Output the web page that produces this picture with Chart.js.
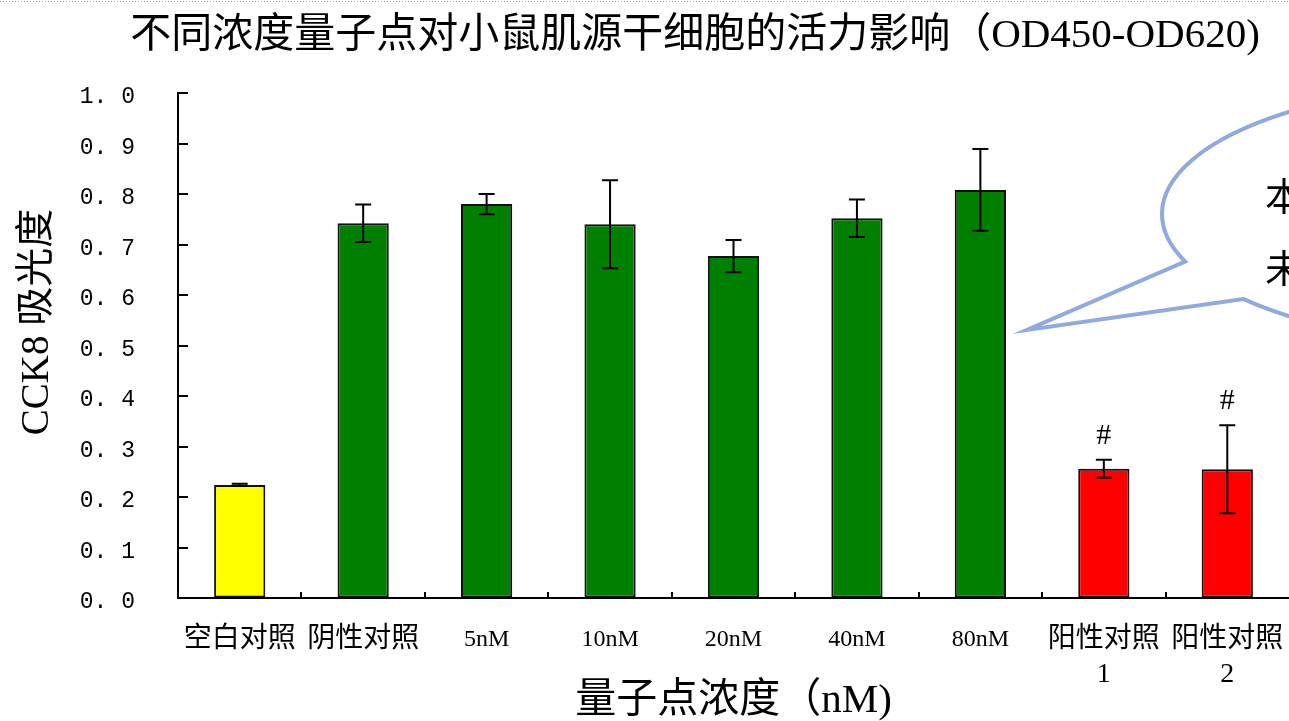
<!DOCTYPE html>
<html>
<head>
<meta charset="utf-8">
<script src="https://cdn.jsdelivr.net/npm/chart.js@4.4.1/dist/chart.umd.min.js"></script>
<style>
  html, body { margin: 0; padding: 0; background: #fff; }
  canvas { display: block; }
</style>
</head>
<body>
<canvas id="c" width="1289" height="721"></canvas>
<script>
// ---- data ----
const chartTitle = '不同浓度量子点对小鼠肌源干细胞的活力影响（OD450-OD620)';
const yAxisTitle = 'CCK8 吸光度';
const xAxisTitle = '量子点浓度（nM)';
const categories = ['空白对照', '阴性对照', '5nM', '10nM', '20nM', '40nM', '80nM', ['阳性对照', '1'], ['阳性对照', '2']];
const values = [0.224, 0.742, 0.780, 0.740, 0.677, 0.752, 0.808, 0.256, 0.255];
const errors = [0.002, 0.037, 0.020, 0.087, 0.032, 0.037, 0.081, 0.018, 0.087];
const markers = ['', '', '', '', '', '', '', '#', '#'];
const barColors = ['#FFFF00', '#008000', '#008000', '#008000', '#008000', '#008000', '#008000', '#FF0000', '#FF0000'];
const calloutLines = ['本', '未'];

const FONT_MIX = "'Liberation Serif', 'Noto Sans CJK SC', serif";
const FONT_CJK = "'Noto Sans CJK SC', sans-serif";

const overlay = {
  id: 'overlay',
  afterDatasetsDraw(chart) {
    const ctx = chart.ctx;
    const x = chart.scales.x, y = chart.scales.y;
    ctx.save();
    // error bars
    ctx.strokeStyle = '#000';
    ctx.lineWidth = 2;
    values.forEach((v, i) => {
      const cx = x.getPixelForValue(i);
      const top = y.getPixelForValue(v + errors[i]);
      const bot = y.getPixelForValue(v - errors[i]);
      const cap = 8;
      ctx.beginPath();
      ctx.moveTo(cx, top); ctx.lineTo(cx, bot);
      ctx.moveTo(cx - cap, top); ctx.lineTo(cx + cap, top);
      ctx.moveTo(cx - cap, bot); ctx.lineTo(cx + cap, bot);
      ctx.stroke();
      if (markers[i]) {
        ctx.fillStyle = '#000';
        ctx.font = "30px " + FONT_MIX;
        ctx.textAlign = 'center';
        ctx.textBaseline = 'middle';
        ctx.fillText(markers[i], cx, top - 24);
      }
    });
    // inner tick marks
    ctx.lineWidth = 2;
    y.ticks.forEach(t => {
      if (t.value === 0) return;
      const py = Math.round(y.getPixelForValue(t.value));
      ctx.beginPath();
      ctx.moveTo(x.left, py); ctx.lineTo(x.left + 10, py);
      ctx.stroke();
    });
    for (let i = 0; i < categories.length - 1; i++) {
      const px = Math.round((x.getPixelForValue(i) + x.getPixelForValue(i + 1)) / 2);
      ctx.beginPath();
      ctx.moveTo(px, y.bottom); ctx.lineTo(px, y.bottom - 6);
      ctx.stroke();
    }
    ctx.restore();
  },
  afterDraw(chart) {
    const ctx = chart.ctx;
    ctx.save();
    // dotted line at top edge
    ctx.strokeStyle = '#8EAADF';
    ctx.lineWidth = 1;
    ctx.setLineDash([1, 2]);
    ctx.beginPath();
    ctx.moveTo(0, 1.5); ctx.lineTo(chart.width, 1.5);
    ctx.stroke();
    ctx.setLineDash([]);
    // chart title
    ctx.fillStyle = '#000';
    ctx.font = "41px " + FONT_MIX;
    ctx.textAlign = 'center';
    ctx.textBaseline = 'middle';
    ctx.fillText(chartTitle, 695, 36);
    // y axis title
    ctx.save();
    ctx.translate(38, 322);
    ctx.rotate(-Math.PI / 2);
    ctx.font = "39px " + FONT_MIX;
    ctx.fillText(yAxisTitle, 0, 0);
    ctx.restore();
    // callout bubble
    const cx = 1496, cy = 214, rx = 334, ry = 130;
    const a1 = Math.atan2((262 - cy) / ry, (1182 - cx) / rx);
    const a2 = Math.atan2((300 - cy) / ry, (1240 - cx) / rx);
    ctx.beginPath();
    ctx.ellipse(cx, cy, rx, ry, 0, a1, a2 + 2 * Math.PI, false);
    ctx.lineTo(1027, 330);
    ctx.closePath();
    ctx.fillStyle = '#fff';
    ctx.fill();
    ctx.strokeStyle = '#8EAADF';
    ctx.lineWidth = 4;
    ctx.lineJoin = 'miter';
    ctx.stroke();
    ctx.fillStyle = '#000';
    ctx.font = "38px " + FONT_CJK;
    ctx.textAlign = 'left';
    ctx.textBaseline = 'middle';
    ctx.fillText(calloutLines[0], 1265, 196);
    ctx.fillText(calloutLines[1], 1265, 268);
    ctx.restore();
  }
};

new Chart(document.getElementById('c'), {
  type: 'bar',
  data: {
    labels: categories,
    datasets: [{
      data: values,
      backgroundColor: barColors,
      borderColor: '#111',
      borderWidth: 2,
      borderSkipped: false,
      barPercentage: 0.415,
      categoryPercentage: 1.0
    }]
  },
  options: {
    responsive: false,
    animation: false,
    devicePixelRatio: 1,
    layout: { padding: { top: 93, left: 0, right: 0, bottom: 0 } },
    plugins: {
      legend: { display: false },
      title: { display: false },
      tooltip: { enabled: false }
    },
    scales: {
      y: {
        min: 0, max: 1,
        ticks: {
          stepSize: 0.1,
          padding: 43,
          labelOffset: 4,
          color: '#000',
          font: { family: "'Liberation Mono', monospace", size: 23 },
          callback: v => v.toFixed(1).replace('.', '. ')
        },
        grid: { display: true, drawOnChartArea: false, drawTicks: false },
        border: { display: true, color: '#000', width: 2 },
        afterFit: s => { s.width = 178; }
      },
      x: {
        ticks: {
          padding: 24,
          maxRotation: 0,
          autoSkip: false,
          color: '#000',
          font: ctx => {
            const lab = categories[ctx.index];
            const cjk = Array.isArray(lab) || /[\u4e00-\u9fff]/.test(lab);
            return cjk ? { family: FONT_MIX, size: 28, lineHeight: 1.25 } : { family: FONT_MIX, size: 24, lineHeight: 1.45 };
          }
        },
        grid: { display: true, drawOnChartArea: false, drawTicks: false },
        border: { display: true, color: '#000', width: 2 },
        title: {
          display: true,
          text: xAxisTitle,
          color: '#000',
          font: { family: FONT_MIX, size: 41, lineHeight: 1.0 },
          padding: { top: 0, bottom: -1 }
        },
        afterFit: s => { s.height = 123; s.paddingRight = 0; s.paddingLeft = 0; }
      }
    }
  },
  plugins: [overlay]
});
</script>
</body>
</html>
